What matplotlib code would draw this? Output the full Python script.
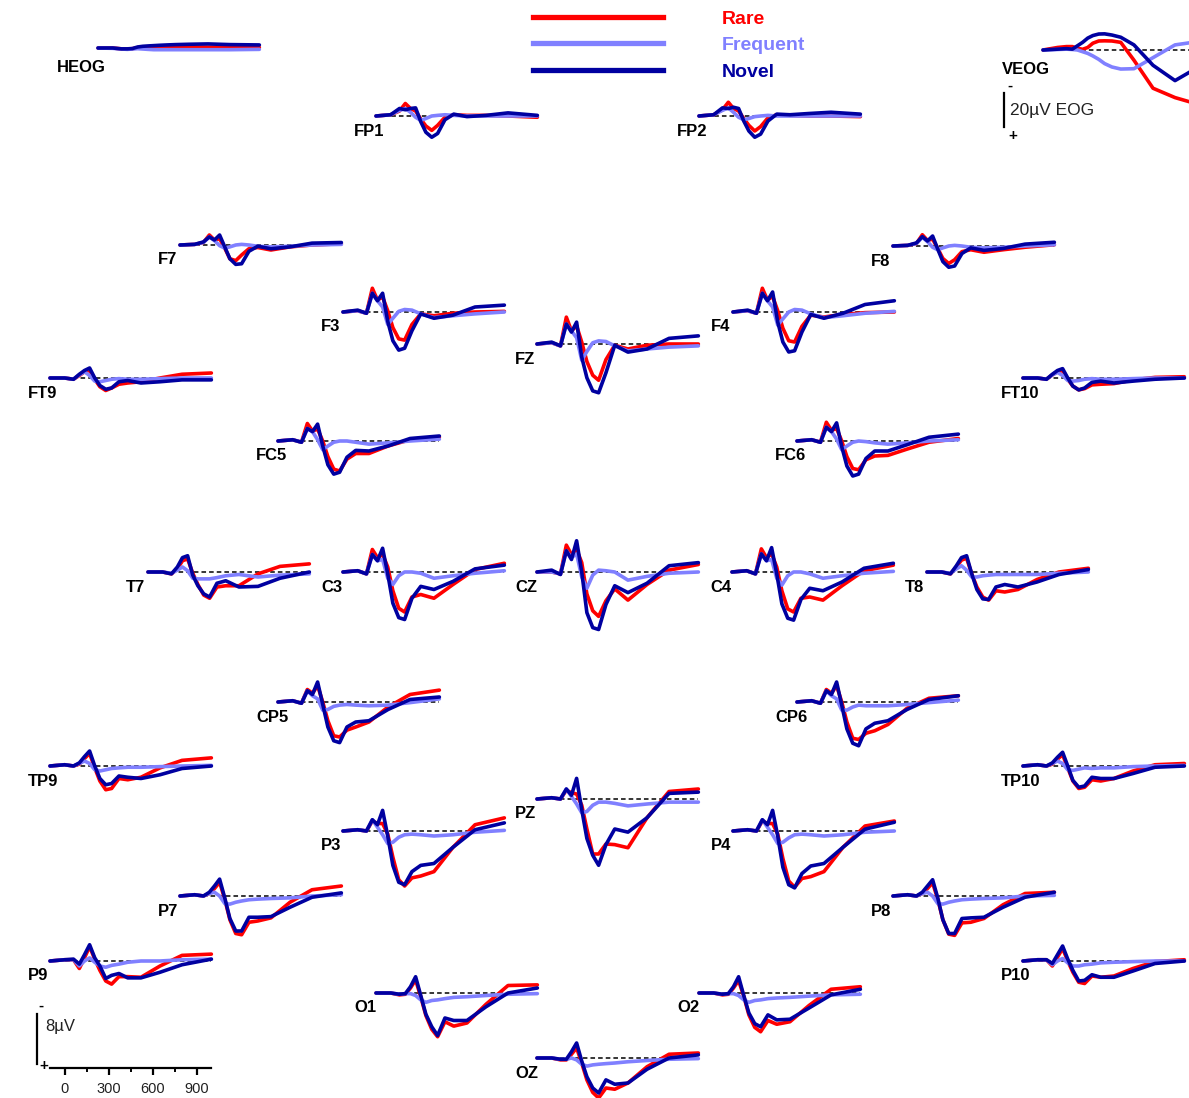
import matplotlib.pyplot as plt
from matplotlib.lines import Line2D
from matplotlib.ticker import FixedLocator

plt.rcParams['font.family'] = ['Liberation Sans', 'DejaVu Sans']

W, H = 1189, 1098

# sample latencies (ms) for every trace
ms = [-100, 0, 60, 100, 135, 170, 205, 240, 280, 320, 370, 430, 520, 650, 800, 1000]

# each channel: (rare, frequent, novel) in microvolts, negative up
HEOG = ([0, 0, 0.5, 0.6, 0.4, -0.2, -0.3, -0.4, -0.4, -0.5, -0.6, -0.6, -0.6, -0.5, -0.4, -0.3],
        [0, 0.2, 0.6, 0.8, 0.6, 0.4, 0.6, 0.8, 1.0, 1.0, 1.0, 1.0, 1.0, 1.0, 1.0, 0.8],
        [0, 0, 0.5, 0.5, 0.3, -0.6, -1.0, -1.2, -1.4, -1.6, -1.8, -2.0, -2.2, -2.4, -2.0, -1.8])
VEOG = ([0, -1.5, -2.0, -2.0, -1.0, -0.4, -1.5, -4.0, -5.3, -5.4, -5.3, -4.5, 6.0, 22.5, 28.0, 33.0],
        [0, -0.3, -0.5, -0.3, 0, 1.0, 2.0, 3.5, 5.5, 8.0, 10.0, 11.2, 11.0, 4.5, -3.0, -5.5],
        [0, -0.5, -0.8, -0.5, -2.5, -4.5, -7.0, -8.5, -9.4, -9.5, -8.8, -7.5, -3.0, 9.0, 18.0, 8.0])
FP1 = ([0, -0.2, -0.8, -2.0, -1.2, -0.8, 0.5, 1.6, 2.3, 1.5, 0.2, -0.2, -0.1, -0.1, 0, 0.2],
       [0, -0.2, -0.9, -1.2, -0.6, 0.2, 0.7, 0.4, 0, -0.1, -0.2, -0.1, 0, 0, 0, 0],
       [0, -0.2, -1.2, -1.0, -1.2, -1.3, 0.9, 2.6, 3.4, 2.8, 0.6, -0.3, 0.1, -0.1, -0.5, -0.1])
FP2 = ([0, -0.2, -1.0, -2.2, -1.2, -0.8, 0.4, 1.5, 2.4, 1.7, 0.3, -0.2, -0.1, 0, 0, 0.1],
       [0, -0.2, -0.9, -1.3, -0.6, 0.2, 0.6, 0.4, 0.1, 0, -0.1, 0, 0, 0, 0, 0],
       [0, -0.2, -1.3, -1.2, -1.4, -1.2, 0.8, 2.4, 3.4, 2.9, 0.8, -0.3, -0.2, -0.4, -0.6, -0.3])
F7 = ([0, -0.1, -0.4, -1.6, -0.8, -1.0, 0.5, 2.2, 2.5, 1.6, 0.6, 0.4, 0.8, 0.3, 0, -0.2],
      [0, -0.1, -0.4, -1.3, -0.7, 0.1, 0.5, 0.3, 0, -0.1, 0, 0.2, 0.3, 0.2, 0, -0.1],
      [0, -0.1, -0.5, -1.3, -0.8, -1.6, 0.3, 2.2, 3.1, 3.0, 1.0, 0.2, 0.6, 0.3, -0.3, -0.4])
F8 = ([0, -0.1, -0.4, -1.8, -0.9, -1.1, 0.4, 2.0, 2.8, 2.2, 0.9, 0.6, 1.0, 0.6, 0.2, -0.2],
      [0, -0.1, -0.4, -1.4, -0.7, 0.2, 0.6, 0.3, 0, -0.1, 0, 0.2, 0.3, 0.2, 0, -0.2],
      [0, -0.1, -0.5, -1.5, -0.8, -1.6, 0.5, 2.5, 3.4, 3.2, 1.2, 0.3, 0.7, 0.4, -0.3, -0.6])
F3 = ([0, -0.2, 0.2, -3.8, -1.9, -2.4, -0.2, 2.5, 4.3, 4.5, 2.0, 0.3, 0.6, 0.2, 0, -0.1],
      [0, -0.2, 0.2, -3.0, -1.8, -0.8, 2.0, 1.0, -0.1, -0.4, -0.3, 0.3, 0.9, 0.6, 0.3, 0],
      [0, -0.3, 0.2, -3.0, -1.8, -3.0, 1.5, 4.6, 6.1, 5.8, 3.0, 0.3, 1.0, 0.5, -0.8, -1.1])
F4 = ([0, -0.2, 0.2, -3.8, -1.9, -2.5, -0.2, 2.6, 4.6, 4.8, 2.3, 0.5, 0.8, 0.4, 0.1, 0],
      [0, -0.2, 0.2, -3.0, -1.8, -0.8, 2.1, 1.1, 0, -0.4, -0.3, 0.3, 0.9, 0.6, 0.2, -0.1],
      [0, -0.3, 0.2, -3.0, -1.8, -3.2, 1.6, 4.8, 6.4, 6.2, 3.2, 0.4, 1.0, 0.2, -1.2, -1.8])
FZ = ([0, -0.2, 0.3, -4.3, -2.1, -2.9, -0.3, 2.8, 5.0, 5.8, 2.5, 0.2, 0.8, 0.2, 0, 0],
      [0, -0.2, 0.3, -3.2, -2.1, -1.0, 2.6, 1.2, -0.2, -0.5, -0.4, 0.3, 1.1, 0.8, 0.5, 0.3],
      [0, -0.3, 0.3, -3.2, -1.9, -3.5, 2.1, 5.4, 7.5, 7.8, 4.6, 0.2, 1.3, 0.8, -0.9, -1.3])
FT9 = ([0, 0, 0.2, -0.4, -1.0, -1.2, 0.2, 1.4, 2.0, 1.6, 1.0, 0.8, 0.6, 0, -0.6, -0.8],
       [0, 0, 0.2, -0.5, -1.0, -0.4, 0.5, 0.6, 0.4, 0.2, 0.1, 0.2, 0.2, 0.1, 0, 0],
       [0, 0, 0.2, -0.6, -1.2, -1.6, 0, 1.2, 1.8, 1.6, 0.6, 0.4, 0.8, 0.6, 0.3, 0.3])
FT10 = ([0, 0, 0.2, -0.5, -1.0, -1.2, 0.2, 1.3, 1.9, 1.7, 1.1, 1.0, 0.9, 0.3, -0.1, -0.2],
        [0, 0, 0.2, -0.5, -0.9, -0.4, 0.4, 0.5, 0.4, 0.2, 0.1, 0.2, 0.2, 0.1, 0, 0],
        [0, 0, 0.2, -0.6, -1.2, -1.5, 0, 1.3, 1.9, 1.6, 0.7, 0.5, 0.8, 0.5, 0.2, 0])
FC5 = ([0, -0.2, 0.2, -2.8, -1.6, -1.9, 0, 2.5, 4.5, 4.8, 2.9, 2.0, 2.0, 0.8, -0.2, -0.6],
       [0, -0.2, 0.2, -2.0, -1.5, -0.2, 1.4, 0.8, 0.2, 0, 0, 0.2, 0.5, 0.3, 0, -0.3],
       [0, -0.2, 0.2, -2.0, -1.5, -2.7, 0.8, 3.8, 5.3, 5.0, 2.6, 1.5, 1.6, 0.8, -0.4, -0.8])
FC6 = ([0, -0.2, 0.2, -3.0, -1.7, -2.0, 0, 2.5, 4.4, 4.6, 3.0, 2.4, 2.3, 1.3, 0.2, -0.4],
       [0, -0.2, 0.2, -2.2, -1.5, -0.3, 1.4, 0.8, 0.2, 0, 0.1, 0.3, 0.5, 0.3, 0, -0.2],
       [0, -0.2, 0.2, -2.2, -1.5, -2.9, 0.9, 4.0, 5.6, 5.3, 2.8, 1.6, 1.6, 0.6, -0.6, -1.1])
T7 = ([0, 0, 0.3, -0.5, -1.8, -2.1, 0.2, 2.0, 3.7, 4.2, 2.4, 2.2, 2.2, 0.3, -0.9, -1.3],
      [0, 0, 0.2, -0.3, -0.8, -0.2, 1.0, 1.1, 1.1, 1.1, 0.9, 0.6, 0.4, 0.8, 0.5, 0.3],
      [0, 0, 0.3, -0.8, -2.3, -2.6, 0.5, 2.2, 3.5, 4.0, 1.8, 1.4, 2.4, 2.3, 1.0, 0])
C3 = ([0, -0.2, 0.3, -3.6, -2.3, -2.8, -0.8, 3.0, 5.8, 6.4, 4.0, 3.6, 4.2, 2.0, -0.4, -1.4],
      [0, -0.2, 0.3, -2.8, -1.8, -2.0, 1.0, 2.0, 0.6, 0, 0, 0.2, 1.0, 0.6, 0.2, -0.2],
      [0, -0.2, 0.3, -2.8, -1.8, -3.8, 0.3, 5.0, 7.3, 7.6, 4.2, 2.3, 2.8, 1.5, -0.5, -1.1])
CZ = ([0, 0, 0.3, -4.3, -2.8, -3.6, -1.5, 3.5, 6.2, 7.1, 4.6, 2.7, 4.5, 2.0, -0.3, -1.2],
      [0, 0, 0.3, -3.4, -2.3, -2.9, 0.8, 2.6, 0.5, -0.3, -0.2, 0.0, 1.3, 0.7, 0.2, 0],
      [0, -0.3, 0.4, -3.4, -2.0, -5.0, 0, 6.5, 8.9, 9.2, 5.2, 2.2, 3.3, 1.8, -1.0, -1.5])
C4 = ([0, -0.2, 0.3, -3.7, -2.3, -2.9, -0.8, 3.0, 5.9, 6.4, 4.2, 4.0, 4.5, 2.2, -0.2, -1.1],
      [0, -0.2, 0.3, -2.9, -1.8, -2.0, 1.0, 2.1, 0.6, 0, 0, 0.3, 1.0, 0.6, 0.2, -0.1],
      [0, -0.2, 0.3, -2.9, -1.8, -3.9, 0.3, 5.1, 7.4, 7.7, 4.4, 2.6, 3.0, 1.6, -0.6, -1.4])
T8 = ([0, 0, 0.3, -0.8, -1.9, -2.2, 0.3, 2.4, 4.0, 4.5, 3.0, 3.2, 2.8, 1.2, 0, -0.6],
      [0, 0, 0.2, -0.5, -1.0, -0.3, 0.8, 0.8, 0.6, 0.5, 0.4, 0.4, 0.4, 0.4, 0.2, 0],
      [0, 0, 0.3, -1.0, -2.3, -2.6, 0.3, 2.8, 4.3, 4.4, 2.4, 2.0, 2.4, 1.6, 0.4, -0.4])
CP5 = ([0, -0.2, 0.2, -2.0, -1.4, -2.6, 0, 3.0, 5.4, 5.6, 4.5, 4.0, 3.2, 0.8, -1.2, -1.9],
       [0, -0.2, 0.2, -1.8, -1.0, -0.5, 1.3, 1.2, 0.7, 0.5, 0.4, 0.5, 0.6, 0.5, 0.1, -0.5],
       [0, -0.2, 0.2, -1.8, -1.2, -3.2, 0.4, 4.0, 6.2, 6.5, 4.0, 3.2, 3.0, 1.2, -0.4, -0.8])
CP6 = ([0, -0.2, 0.2, -2.0, -1.4, -2.6, 0, 3.2, 5.8, 6.0, 5.0, 4.6, 3.6, 1.0, -0.6, -1.0],
       [0, -0.2, 0.2, -1.8, -1.0, -0.5, 1.3, 1.3, 0.8, 0.5, 0.6, 0.6, 0.6, 0.4, 0.1, -0.3],
       [0, -0.2, 0.2, -1.8, -1.2, -3.2, 0.5, 4.3, 6.6, 7.0, 4.3, 3.4, 3.0, 1.2, -0.4, -1.0])
TP9 = ([0, -0.2, 0, -0.3, -1.2, -2.0, 0.3, 2.4, 3.8, 3.6, 2.0, 2.2, 1.8, 0.3, -0.9, -1.3],
       [0, -0.2, 0, -0.4, -0.8, -0.4, 0.6, 0.8, 0.6, 0.4, 0.3, 0.2, 0.2, 0.1, 0, -0.1],
       [0, -0.2, 0, -0.5, -1.5, -2.4, 0, 2.0, 3.0, 2.8, 1.6, 1.8, 2.0, 1.4, 0.4, 0])
TP10 = ([0, -0.2, 0, -0.3, -1.1, -1.8, 0.3, 2.4, 3.6, 3.4, 2.2, 2.4, 2.0, 0.8, -0.2, -0.4],
        [0, -0.2, 0, -0.4, -0.8, -0.4, 0.6, 0.7, 0.5, 0.3, 0.4, 0.3, 0.3, 0.1, 0, -0.1],
        [0, -0.2, 0, -0.5, -1.4, -2.2, 0, 2.3, 3.4, 3.2, 1.8, 2.0, 2.0, 1.2, 0.2, 0])
PZ = ([0, -0.2, 0, -1.4, -1.0, -0.8, 1.0, 4.8, 8.8, 8.8, 7.2, 7.3, 7.8, 3.0, -1.2, -1.6],
      [0, -0.2, 0, -1.6, -0.4, 0.8, 2.2, 2.0, 1.0, 0.5, 0.5, 0.7, 1.1, 0.8, 0.5, 0.5],
      [0, -0.2, 0, -1.6, -0.6, -3.3, 1.7, 6.3, 9.0, 10.6, 7.3, 4.8, 5.3, 3.0, -0.9, -1.1])
P3 = ([0, -0.2, 0, -1.6, -1.2, -1.2, 0.5, 4.2, 7.8, 8.8, 7.5, 7.2, 6.5, 2.6, -1.0, -2.1],
      [0, -0.2, 0, -1.8, -0.6, 0.6, 2.0, 1.8, 1.0, 0.6, 0.5, 0.6, 0.8, 0.6, 0.2, -0.1],
      [0, -0.2, 0, -1.8, -1.0, -3.3, 0.8, 5.5, 8.2, 8.6, 6.5, 5.5, 5.2, 2.6, -0.2, -1.3])
P4 = ([0, -0.2, 0, -1.6, -1.2, -1.2, 0.5, 4.4, 8.0, 9.0, 7.6, 7.3, 6.5, 2.6, -0.8, -1.6],
      [0, -0.2, 0, -1.8, -0.6, 0.6, 2.0, 1.8, 1.1, 0.6, 0.5, 0.6, 0.8, 0.6, 0.2, 0],
      [0, -0.2, 0, -1.8, -1.0, -3.3, 0.8, 5.8, 8.6, 9.1, 6.8, 5.6, 5.2, 2.6, -0.3, -1.4])
P7 = ([0, -0.2, 0, -0.4, -1.2, -2.2, 0.5, 3.8, 6.0, 6.2, 4.2, 4.0, 3.5, 1.0, -1.0, -1.6],
      [0, -0.2, 0, -0.4, -0.6, 0, 1.2, 1.3, 1.0, 0.8, 0.6, 0.5, 0.4, 0.3, 0, -0.2],
      [0, -0.2, 0, -0.6, -1.6, -2.7, 0.3, 3.6, 5.6, 5.6, 3.4, 3.4, 3.3, 1.8, 0.2, -0.5])
P8 = ([0, -0.2, 0, -0.4, -1.2, -2.1, 0.5, 3.8, 6.1, 6.3, 4.3, 4.2, 3.6, 1.4, -0.4, -0.6],
      [0, -0.2, 0, -0.4, -0.6, 0, 1.2, 1.3, 1.0, 0.8, 0.6, 0.5, 0.4, 0.3, 0, -0.1],
      [0, -0.2, 0, -0.6, -1.6, -2.6, 0.3, 3.8, 6.0, 6.0, 3.6, 3.5, 3.4, 1.8, 0.2, -0.6])
P9 = ([0, -0.2, -0.2, 1.2, -0.5, -2.3, -0.3, 1.5, 3.2, 3.7, 2.5, 2.5, 2.6, 0.8, -0.9, -1.1],
      [0, -0.2, -0.2, 0.8, 0.0, -0.5, 0.2, 0.8, 1.0, 0.7, 0.5, 0.2, 0.0, 0.0, -0.2, -0.3],
      [0, -0.2, -0.3, 0.5, -1.0, -2.6, -0.5, 0.8, 2.8, 2.3, 2.0, 2.7, 2.7, 1.8, 0.6, -0.3])
P10 = ([0, -0.2, -0.2, 0.8, -0.6, -2.0, 0, 1.8, 3.4, 3.6, 2.4, 2.6, 2.4, 1.2, 0.1, -0.2],
       [0, -0.2, -0.2, 0.6, 0, -0.4, 0.3, 0.8, 0.8, 0.6, 0.5, 0.3, 0.2, 0.1, 0, 0],
       [0, -0.2, -0.2, 0.4, -1.0, -2.4, -0.3, 1.5, 3.2, 3.1, 2.2, 2.6, 2.6, 1.6, 0.4, 0])
O1 = ([0, 0, 0.3, 0.2, -0.8, -2.1, 0.6, 3.6, 5.8, 7.0, 4.6, 5.3, 4.8, 1.8, -1.2, -1.3],
      [0, 0, 0.2, 0.1, 0.1, 0.4, 1.1, 1.5, 1.2, 1.1, 0.9, 0.7, 0.6, 0.4, 0.2, 0.1],
      [0, 0, 0.2, 0.1, -1.0, -2.6, 0.4, 3.4, 5.4, 6.8, 4.0, 4.4, 4.4, 2.2, 0, -0.8])
O2 = ([0, 0, 0.3, 0.2, -0.8, -2.0, 0.5, 3.5, 5.5, 6.2, 4.4, 5.0, 4.6, 2.0, -0.6, -1.0],
      [0, 0, 0.2, 0.1, 0.1, 0.4, 1.1, 1.5, 1.2, 1.1, 0.9, 0.8, 0.7, 0.5, 0.3, 0.2],
      [0, 0, 0.2, 0.1, -1.0, -2.6, 0.4, 3.2, 4.9, 5.4, 3.5, 4.3, 4.2, 2.4, 0.3, -0.6])
OZ = ([0, 0, 0.3, 0.3, -0.6, -1.6, 0.8, 3.5, 5.5, 6.4, 4.8, 5.0, 4.0, 1.4, -0.6, -0.8],
      [0, 0, 0.2, 0.2, 0, 0.3, 1.0, 1.3, 1.1, 1.0, 0.9, 0.8, 0.6, 0.4, 0.2, 0.1],
      [0, 0, 0.2, 0.2, -1.0, -2.4, 0.5, 3.0, 4.8, 5.6, 3.5, 4.2, 4.0, 1.8, 0, -0.5])

conditions = ['Rare', 'Frequent', 'Novel']
colors = ['#ff0000', '#8080ff', '#0000a0']

# page position of each panel: left end of the trace and its baseline, in pixels
layout = [
    ('HEOG', HEOG, 98, 48), ('VEOG', VEOG, 1043, 50),
    ('FP1', FP1, 376, 116), ('FP2', FP2, 699, 116),
    ('F7', F7, 180, 245), ('F8', F8, 893, 246),
    ('F3', F3, 343, 312), ('F4', F4, 733, 312), ('FZ', FZ, 537, 344),
    ('FT9', FT9, 50, 378), ('FT10', FT10, 1023, 378),
    ('FC5', FC5, 278, 441), ('FC6', FC6, 797, 441),
    ('T7', T7, 148, 572), ('C3', C3, 343, 572), ('CZ', CZ, 537, 572),
    ('C4', C4, 732, 572), ('T8', T8, 927, 572),
    ('CP5', CP5, 278, 702), ('CP6', CP6, 797, 702),
    ('TP9', TP9, 50, 766), ('TP10', TP10, 1023, 766),
    ('PZ', PZ, 537, 799), ('P3', P3, 343, 831), ('P4', P4, 733, 831),
    ('P7', P7, 180, 896), ('P8', P8, 893, 896),
    ('P9', P9, 50, 961), ('P10', P10, 1023, 961),
    ('O1', O1, 376, 993), ('O2', O2, 699, 993), ('OZ', OZ, 537, 1058),
]

PX_PER_MS = 0.1467
PX_PER_UV = 6.25      # scalp channels
PX_PER_UV_EOG = 1.7   # eye channels
T0, T1 = -100, 1000


def panel_axes(x0, y0, up, down, px_per_uv):
    # axes spanning T0..T1 horizontally, 'up' uV above and 'down' uV below baseline
    w = (T1 - T0) * PX_PER_MS
    top = y0 - up * px_per_uv
    h = (up + down) * px_per_uv
    ax = fig.add_axes([x0 / W, 1 - (top + h) / H, w / W, h / H])
    ax.set_xlim(T0, T1)
    ax.set_ylim(down, -up)   # negative up
    ax.axis('off')
    return ax


fig = plt.figure(figsize=(W / 100, H / 100), dpi=100)

for name, traces, x0, y0 in layout:
    eog = name.endswith('EOG')
    if eog:
        ax = panel_axes(x0, y0, 40, 40, PX_PER_UV_EOG)
    else:
        ax = panel_axes(x0, y0, 12, 14, PX_PER_UV)
    ax.plot([T0, T1], [0, 0], color='black', lw=1.1, ls=(0, (3, 2)), zorder=1,
            clip_on=False)
    for vals, c in zip(traces, colors):
        ax.plot(ms, vals, color=c, lw=2.6, solid_joinstyle='round',
                solid_capstyle='round', clip_on=False, zorder=2)
    dx = -41 if eog else -22
    dy = -19 if eog else -15
    ax.annotate(name, xy=(T0, 0), xytext=(dx, dy), textcoords='offset pixels',
                ha='left', va='center', fontsize=12, fontweight='bold',
                annotation_clip=False)

# legend
handles = [Line2D([], [], color=c, lw=3.8) for c in colors]
fig.legend(handles, conditions, loc='upper left',
           bbox_to_anchor=(533 / W, 1 - 10 / H), frameon=False,
           handlelength=6.7, handletextpad=3.0, labelspacing=0.46,
           borderpad=0, borderaxespad=0, labelcolor=colors,
           prop={'weight': 'bold', 'size': 14})

# voltage / time scale at the bottom left
sc = panel_axes(50, 1064, 9, 0.64, PX_PER_UV)
for s in ['top', 'right']:
    sc.spines[s].set_visible(False)
sc.axis('on')
sc.patch.set_visible(False)
sc.spines['left'].set_bounds(0, -8)
sc.spines['left'].set_position(('outward', 9.4))
sc.spines['left'].set_linewidth(1.6)
sc.spines['bottom'].set_linewidth(1.6)
sc.set_yticks([])
sc.xaxis.set_major_locator(FixedLocator([0, 300, 600, 900]))
sc.xaxis.set_minor_locator(FixedLocator([150, 450, 750]))
sc.tick_params(axis='x', which='major', length=5, width=1.6, labelsize=10.5,
               labelcolor='#222222', pad=5)
sc.tick_params(axis='x', which='minor', length=3, width=1.4)
sc.text(-180, -9.3, '-', fontsize=11, fontweight='bold', ha='left', va='center')
sc.text(-175, 0.3, '+', fontsize=11, fontweight='bold', ha='left', va='center')
sc.text(-135, -6.0, '8\u00b5V', fontsize=12, color='#222222', ha='left', va='center')

# EOG scale bar
eg = fig.add_axes([1004 / W, 1 - 127 / H, 8 / W, 34 / H])
eg.set_ylim(20, 0)
eg.set_xticks([])
eg.set_yticks([])
for s in ['top', 'right', 'bottom']:
    eg.spines[s].set_visible(False)
eg.spines['left'].set_linewidth(1.6)
eg.patch.set_visible(False)
fig.text(1010 / W, 1 - 86 / H, '-', fontsize=11, fontweight='bold', ha='center', va='center')
fig.text(1013 / W, 1 - 136 / H, '+', fontsize=11, fontweight='bold', ha='center', va='center')
fig.text(1010 / W, 1 - 111 / H, '20\u00b5V EOG', fontsize=12.5, color='#222222',
         ha='left', va='center')

fig.savefig('out.png', dpi=100)
